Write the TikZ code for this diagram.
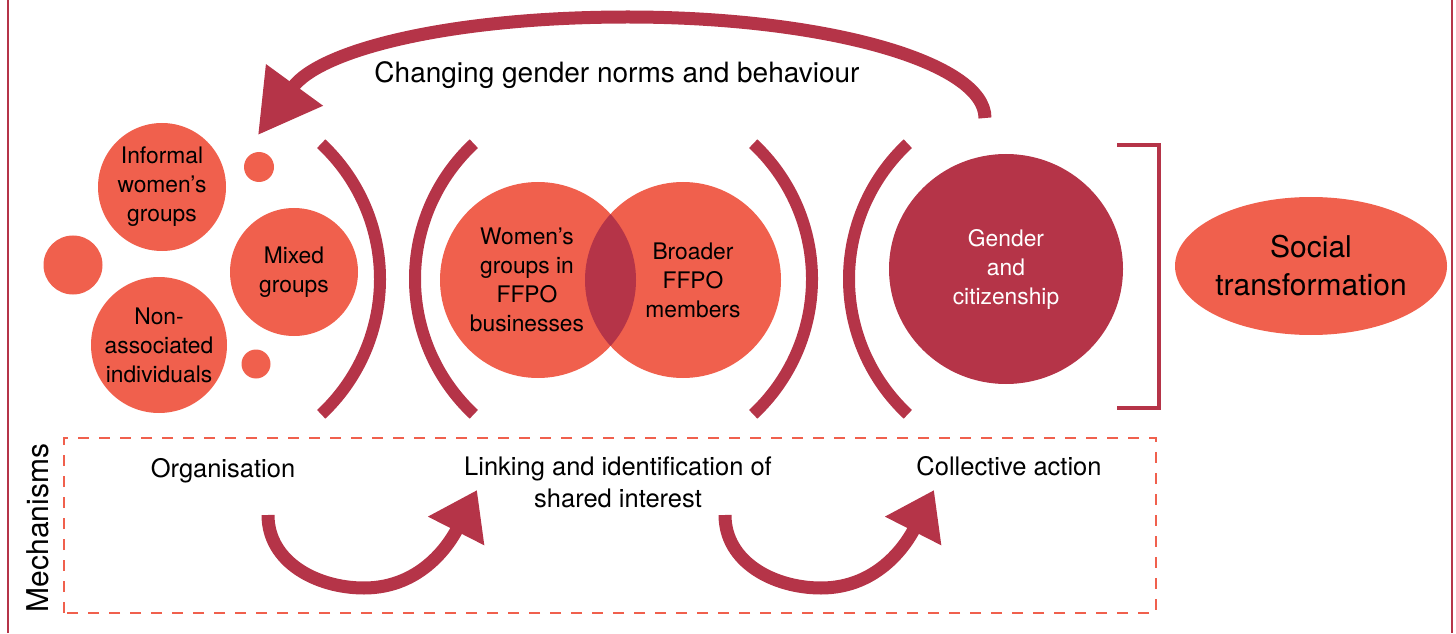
\documentclass[tikz,border=0pt]{standalone}
\usepackage{fontspec}
\setmainfont{TeX Gyre Heros}
\usetikzlibrary{arrows.meta,shapes.geometric}
\definecolor{ffcoral}{RGB}{240,96,77}
\definecolor{ffwine}{RGB}{181,52,72}

\begin{document}
\begin{tikzpicture}[x=0.5pt, y=0.5pt,
  bubble/.style={circle, fill=ffcoral, inner sep=0pt, align=center, font=\fontsize{11.4}{14.5}\selectfont},
  blob/.style={ellipse, inner sep=0pt, align=center},
  paren/.style={draw=ffwine, line width=6pt},
  fbarrow/.style={draw=ffwine, line width=6.5pt, -{Triangle[length=31pt, width=33.5pt]}},
  mecharrow/.style={draw=ffwine, line width=6.5pt, -{Triangle[length=23pt, width=30pt]}},
  mechtext/.style={font=\fontsize{12.75}{16}\selectfont, align=center}]
  % Dimensions (one unit = one pixel of the layout)
  \def\pr{185}   % radius of the bracket arcs
  \def\py{354}   % height of the arc centres
  \def\vr{98}    % radius of the two overlapping circles

  \useasboundingbox (0,0) rectangle (1456,633);

  % outer frame (sides only)
  \draw[ffwine, line width=1pt] (8,0) -- (8,633);
  \draw[ffwine, line width=1pt] (1452,0) -- (1452,633);

  % left cluster of groups
  \node[bubble, minimum size=64pt] (informal) at (162,446) {Informal\\women's\\groups};
  \node[bubble, minimum size=15pt] (dotA) at (259,466) {};
  \node[bubble, minimum size=29.5pt] (dotB) at (73,368) {};
  \node[bubble, minimum size=64pt] (mixed) at (294,361) {Mixed\\groups};
  \node[bubble, minimum size=68pt] (nonassoc) at (159,288) {Non-\\associated\\individuals};
  \node[bubble, minimum size=14.5pt] (dotC) at (256,269) {};

  % the two FFPO circles and their overlap
  \node[bubble, minimum size=\vr pt] (womens) at (538,353) {};
  \node[bubble, minimum size=\vr pt] (broader) at (683,353) {};
  \begin{scope}
    \clip (womens.center) circle (\vr);
    \fill[ffwine] (broader.center) circle (\vr);
  \end{scope}
  \node[bubble, fill=none] (womenstxt) at ([xshift=-5.5pt]womens.center) {Women's\\groups in\\FFPO\\businesses};
  \node[bubble, fill=none] (broadertxt) at ([xshift=5pt]broader.center) {Broader\\FFPO\\members};

  % citizenship and outcome
  \node[blob, fill=ffwine, text=white, minimum width=117pt, minimum height=115pt,
        font=\fontsize{11.4}{14.5}\selectfont] (gender) at (1006,364) {Gender\\and\\citizenship};
  \node[blob, fill=ffcoral, minimum width=136pt, minimum height=69pt,
        font=\fontsize{15}{19}\selectfont] (social) at (1311,367) {Social\\transformation};

  % round brackets between the stages
  \foreach \cx/\sa in {195/-47, 600/133, 627/-47, 1034/133}
    \draw[paren] (\cx,\py) ++(\sa:\pr) arc[start angle=\sa, delta angle=94, radius=\pr];

  % square bracket before the outcome
  \draw[ffwine, line width=2.3pt] (1117,488) -- (1159,488) -- (1159,225) -- (1117,225);

  % feedback arrow on top
  \node[font=\fontsize{14}{17}\selectfont, anchor=base] (norms) at (617,550) {Changing gender norms and behaviour};
  \coordinate (fbstart) at (985,515);
  \coordinate (fbend) at (258,498);
  \draw[fbarrow] (fbstart) .. controls (985,571) and (825,616) .. (628,616)
    .. controls (450,616) and (320,583) .. (fbend);

  % mechanisms box
  \draw[ffcoral, line width=1.4pt, dash pattern=on 5.5pt off 5pt] (64,20) rectangle (1156,195);
  \node[rotate=90, font=\fontsize{15}{18}\selectfont] (mech) at (38,105) {Mechanisms};
  \node[mechtext, anchor=base] (organise) at (223,156) {Organisation};
  \node[mechtext] (linking) at (618,151) {Linking and identification of\\shared interest};
  \node[mechtext, anchor=base] (collective) at (1009,158) {Collective action};

  % arrows between the mechanisms
  \coordinate (orgtop) at (268,118);
  \coordinate (orglow) at (364,45);
  \coordinate (linkin) at (477,143);
  \coordinate (linktop) at (725,118);
  \coordinate (linklow) at (821,45);
  \coordinate (collin) at (934,143);
  \draw[mecharrow] (orgtop) to[out=-90,in=180] (orglow) to[out=0,in=-117] (linkin);
  \draw[mecharrow] (linktop) to[out=-90,in=180] (linklow) to[out=0,in=-117] (collin);

\end{tikzpicture}
\end{document}
